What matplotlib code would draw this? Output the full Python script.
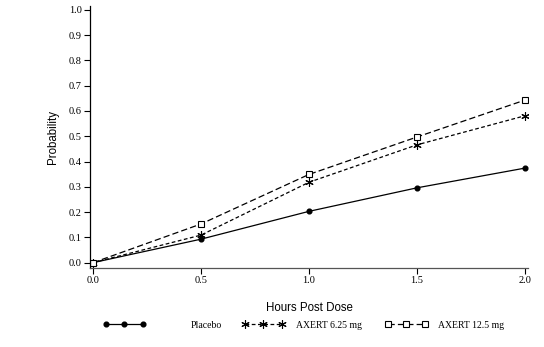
import matplotlib.pyplot as plt
from matplotlib.lines import Line2D

# data
hours = [0.0, 0.5, 1.0, 1.5, 2.0]
placebo = [0.0, 0.093, 0.203, 0.296, 0.374]
axert_625 = [0.0, 0.109, 0.318, 0.466, 0.581]
axert_125 = [0.0, 0.153, 0.349, 0.497, 0.643]
series_names = ['Placebo', 'AXERT 6.25 mg', 'AXERT 12.5 mg']
x_ticks = [0.0, 0.5, 1.0, 1.5, 2.0]
y_ticks = [0.0, 0.1, 0.2, 0.3, 0.4, 0.5, 0.6, 0.7, 0.8, 0.9, 1.0]

serif = 'Liberation Serif'
sans = 'Liberation Sans'

fig = plt.figure(figsize=(5.44, 3.47), dpi=100)
ax = fig.add_axes([0.1654, 0.2277, 0.8052, 0.755])

asterisk = (6, 2, 0)
styles = [
    dict(color='black', lw=0.9, ls='-', marker='o', ms=3.4, mfc='black'),
    dict(color='black', lw=0.9, ls=(0, (3, 2)), marker=asterisk, ms=6, mew=0.8),
    dict(color='black', lw=0.9, ls=(0, (5, 2.5)), marker='s', ms=3.8, mfc='white', mew=0.8),
]

for vals, st in zip([placebo, axert_625, axert_125], styles):
    ax.plot(hours, vals, **st)

ax.set_xlim(-0.014, 2.014)
ax.set_ylim(-0.021, 1.015)
ax.set_xticks(x_ticks)
ax.set_yticks(y_ticks)
ax.set_xticklabels(['%.1f' % t for t in x_ticks], fontfamily=serif, fontsize=7.5)
ax.set_yticklabels(['%.1f' % t for t in y_ticks], fontfamily=serif, fontsize=7.5)
ax.tick_params(direction='out', length=4, width=0.8, pad=2)
ax.spines['top'].set_visible(False)
ax.spines['right'].set_visible(False)
ax.spines['left'].set_linewidth(0.9)
ax.spines['bottom'].set_linewidth(0.9)
ax.spines['bottom'].set_color('#555555')

ax.set_xlabel('Hours Post Dose', fontfamily=sans, fontsize=8.3, labelpad=12)
ax.set_ylabel('Probability', fontfamily=sans, fontsize=8.3, labelpad=7)

# legend entries placed separately to match the spacing in the original
leg_x = [103, 242, 385]
leg_pad = [4.6, 1.2, 1.1]
for name, st, x0, pad in zip(series_names, styles, leg_x, leg_pad):
    h = Line2D([], [], **st)
    fig.legend([h], [name], loc='center left', bbox_to_anchor=(x0 / 544, 0.063),
               frameon=False, borderpad=0, borderaxespad=0, numpoints=3,
               handlelength=4.4, handletextpad=pad,
               prop={'family': serif, 'size': 7})

fig.savefig('out.png', dpi=100)
